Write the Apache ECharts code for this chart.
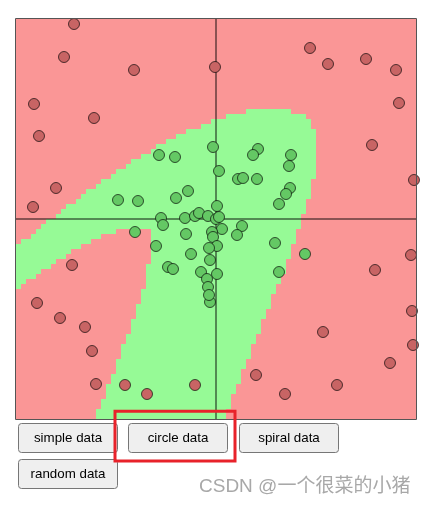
<!DOCTYPE html>
<html>
<head>
<meta charset="utf-8">
<script src="https://cdn.jsdelivr.net/npm/echarts/dist/echarts.min.js"></script>
<style>
html,body{margin:0;padding:0;background:#fff;}
#chart{width:426px;height:505px;}
</style>
</head>
<body>
<div id="chart"></div>
<script>
// ---- data ----
// decision map: rows of 5-unit cells, top row 0, columns from left; [row, colStart, colEnd) classified as class 1 (green)
const CELL = 5;
const AX_MIN = -200, AX_MAX = 200;
const greenRuns = [
 [18,46,55],[19,42,58],[20,39,59],[21,37,59],[22,34,60],[23,32,60],[24,30,60],[25,28,60],
 [26,27,60],[27,25,60],[28,23,60],[29,22,60],[30,20,60],[31,19,60],[32,17,59],[33,16,59],
 [34,14,59],[35,13,59],[36,12,58],[37,10,58],[38,9,58],[39,8,57],[40,6,57],[41,5,57],
 [42,4,20],[42,27,56],[43,3,17],[43,27,56],[44,1,15],[44,27,56],[45,0,13],[45,27,55],
 [46,0,11],[46,27,55],[47,0,10],[47,27,55],[48,0,8],[48,27,54],[49,0,7],[49,26,54],
 [50,0,5],[50,26,54],[51,0,4],[51,26,53],[52,0,2],[52,26,53],[53,0,1],[53,26,52],
 [54,25,52],[55,25,51],[56,25,51],[57,24,51],[58,24,50],[59,24,50],[60,23,49],[61,23,49],
 [62,23,49],[63,22,48],[64,22,48],[65,21,47],[66,21,47],[67,21,47],[68,20,46],[69,20,46],
 [70,20,45],[71,19,45],[72,19,45],[73,18,44],[74,18,44],[75,18,43],[76,17,43],[77,17,43],
 [78,16,42],[79,16,42]
];
const class0Points = [
 [-142,195],[-152,162],[-82,149],[-182,115],[-122,101],[-177,83],[-201,67],[-160,31],
 [-183,12],[-144,-46],[-179,-84],[-156,-99],[-131,-108],[-124,-132],[-120,-165],[-91,-166],
 [-69,-175],[-21,-166],[-1,152],[94,171],[112,155],[150,160],[180,149],[183,116],
 [156,74],[198,39],[159,-51],[195,-36],[196,-92],[107,-113],[197,-126],[174,-144],
 [121,-166],[69,-175],[40,-156]
];
const class1Points = [
 [-3,72],[-57,64],[-41,62],[42,70],[37,64],[75,64],[73,53],[3,48],[22,40],[27,41],[41,40],
 [74,31],[70,25],[63,15],[-28,28],[-40,21],[-98,19],[-78,18],[1,13],[-55,1],[-53,-6],
 [-31,1],[-21,3],[-17,6],[-8,3],[0,0],[3,2],[6,-10],[26,-7],[21,-16],[-4,-13],[-3,-18],
 [-30,-15],[1,-27],[-7,-29],[-60,-27],[-25,-35],[59,-24],[89,-35],[-6,-41],[-48,-48],
 [-43,-50],[-15,-53],[1,-55],[-9,-60],[63,-53],[-81,-13],[-6,-83],[-8,-68],[-7,-76]
];
const buttonLabels = ['simple data','circle data','spiral data','random data'];
const watermark = 'CSDN @一个很菜的小猪';

// ---- chart ----
const chart = echarts.init(document.getElementById('chart'), null, {renderer:'canvas'});
const btnPos = [[18.5,423.5],[128.5,423.5],[239.5,423.5],[18.5,459.5]];
const graphics = [];
buttonLabels.forEach((t,i)=>{
  graphics.push({type:'rect', z:100, shape:{x:btnPos[i][0], y:btnPos[i][1], width:99, height:29, r:3},
    style:{fill:'#efefef', stroke:'#767676', lineWidth:1}});
  graphics.push({type:'text', z:101, x:btnPos[i][0]+49.5, y:btnPos[i][1]+15,
    style:{text:t, fill:'#000', font:'13.33px "Liberation Sans", Arial, sans-serif', align:'center', verticalAlign:'middle'}});
});
graphics.push({type:'rect', z:102, shape:{x:115, y:411.3, width:120, height:49.7},
  style:{fill:'none', stroke:'#e8222a', lineWidth:3}});
graphics.push({type:'rect', z:99, shape:{x:15.5, y:18.5, width:401, height:401},
  style:{fill:'none', stroke:'#555', lineWidth:1}});
graphics.push({type:'text', z:103, x:199, y:487,
  style:{text:watermark, fill:'#a8a8a8', font:'19px "Liberation Sans", "Noto Sans CJK SC", sans-serif', verticalAlign:'middle'}});

const option = {
  animation:false,
  grid:{left:16, top:19, width:400, height:400, show:true, backgroundColor:'#fa9696', borderWidth:0},
  xAxis:{type:'value', min:AX_MIN, max:AX_MAX, z:5,
    axisLine:{show:true, onZero:true, lineStyle:{color:'rgba(0,0,0,0.45)', width:2}},
    axisTick:{show:false}, axisLabel:{show:false}, splitLine:{show:false}},
  yAxis:{type:'value', min:AX_MIN, max:AX_MAX, z:5,
    axisLine:{show:true, onZero:true, lineStyle:{color:'rgba(0,0,0,0.45)', width:2}},
    axisTick:{show:false}, axisLabel:{show:false}, splitLine:{show:false}},
  graphic: graphics,
  series:[
    {type:'custom', z:1, clip:true, data:greenRuns, encode:{x:[1,2], y:0},
      renderItem:function(params, api){
        const r = api.value(0), c0 = api.value(1), c1 = api.value(2);
        const p0 = api.coord([AX_MIN + c0*CELL, AX_MAX - r*CELL]);
        const p1 = api.coord([AX_MIN + c1*CELL, AX_MAX - (r+1)*CELL]);
        return {type:'rect', shape:{x:p0[0], y:p0[1], width:p1[0]-p0[0], height:p1[1]-p0[1]},
          style:{fill:'#96fa96'}};
      }},
    {type:'scatter', z:10, clip:true, data:class0Points, symbolSize:11,
      itemStyle:{color:'#c86464', borderColor:'rgba(0,0,0,0.65)', borderWidth:1, opacity:1}},
    {type:'scatter', z:10, clip:true, data:class1Points, symbolSize:11,
      itemStyle:{color:'#64c864', borderColor:'rgba(0,0,0,0.65)', borderWidth:1, opacity:1}}
  ]
};
chart.setOption(option);
</script>
</body>
</html>
